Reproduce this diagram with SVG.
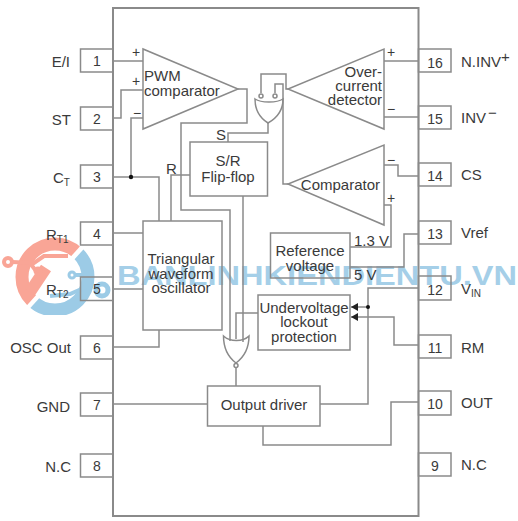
<svg xmlns="http://www.w3.org/2000/svg" width="518" height="521" viewBox="0 0 518 521">
<style>
.l{fill:none;stroke:#8a8a8a;stroke-width:1.5}
.b{fill:none;stroke:#8a8a8a;stroke-width:1.5}
.o{fill:none;stroke:#8a8a8a;stroke-width:2}
text{font-family:"Liberation Sans",Arial,sans-serif;font-size:15px;fill:#3a3a3a}
.m{text-anchor:middle}
.e{text-anchor:end}
.s{font-size:10px}
.p{font-size:14px;fill:#3a3a3a}
.sg{font-size:14px}
.wr{fill:none;stroke:#f9a596}
.wb{fill:none;stroke:#9ccbe6}
</style>
<defs>
<marker id="a" markerUnits="userSpaceOnUse" markerWidth="7" markerHeight="8" refX="7" refY="4" orient="auto"><path d="M0 0L7 4L0 8Z" fill="#222"/></marker>
<clipPath id="cr"><path d="M92 233L20 313H0V220H92Z"/></clipPath>
<clipPath id="cb"><path d="M92 240L24 315H125V240Z"/></clipPath>
</defs>
<rect width="518" height="521" fill="#fff"/>
<g id="watermark">
<g clip-path="url(#cr)"><circle class="wr" cx="55" cy="277" r="33" stroke-width="13"/><path class="wr" stroke-width="4" d="M12 262L34 263L44 256H68M30 263L36 271H38"/><path class="wr" stroke-width="12" d="M30 292L46 268"/></g>
<circle class="wr" cx="8" cy="262" r="4" stroke-width="4"/><circle class="wr" cx="38" cy="271" r="3" stroke-width="3"/>
<g clip-path="url(#cb)"><circle class="wb" cx="55" cy="277" r="33" stroke-width="13"/><path class="wb" stroke-width="4" d="M76 275H94"/></g>
<circle class="wb" cx="72" cy="275" r="3" stroke-width="3"/><circle class="wb" cx="102" cy="290" r="6" stroke-width="5"/>
<path class="wb" stroke-width="4" fill="none" d="M50 296L70 294L86 287"/>
<text x="117" y="285" textLength="400" lengthAdjust="spacingAndGlyphs" style="font-size:28px;fill:#a5cfe8;font-weight:bold">BANLINHKIENDIENTU.VN</text>
</g>
<g id="connectors">
<path class="l" d="M113 61H143M113 118H121V90H143M143 118H131V177M113 177H159V221"/>
<path class="l" d="M238 89H247V123H181V210H230V341"/>
<path class="l" d="M190 175H171V221M243 196V342M258 313H236V339"/>
<path class="l" d="M113 233H143M113 289H143M113 347H159V330M113 404H207"/>
<path class="l" d="M236 368V386"/>
<path class="l" d="M268 123V133H228V142"/>
<path class="l" d="M261 93V74H286V89H288M275 93V84H283V184H288"/>
<path class="l" d="M384 61H418M384 117H418M384 165H398V176H418M384 205H391V247H350M418 234H404V267H350"/>
<path class="l" d="M320 404H368V288H418"/>
<path class="l" d="M368 307H351" marker-end="url(#a)"/>
<path class="l" d="M418 345H394V317H351" marker-end="url(#a)"/>
<path class="l" d="M263 426V445H391V402H418"/>
<circle cx="131" cy="177" r="2.200" fill="#111"/>
<circle cx="368" cy="307" r="2" fill="#111"/>
</g>
<g id="package"><rect class="o" x="113" y="8" width="305.500" height="508"/></g>
<g id="pin1"><rect class="b" x="80.500" y="49" width="32.500" height="23"/><text class="m p" x="97" y="66">1</text><text class="e" x="70" y="67">E/I</text></g>
<g id="pin2"><rect class="b" x="80.500" y="107" width="32.500" height="23"/><text class="m p" x="97" y="124">2</text><text class="e" x="71" y="125">ST</text></g>
<g id="pin3"><rect class="b" x="80.500" y="165" width="32.500" height="23"/><text class="m p" x="97" y="182">3</text><text x="53" y="183">C<tspan class="s" dy="3">T</tspan></text></g>
<g id="pin4"><rect class="b" x="80.500" y="222" width="32.500" height="23"/><text class="m p" x="97" y="239">4</text><text x="46" y="240">R<tspan class="s" dy="3">T1</tspan></text></g>
<g id="pin5"><rect class="b" x="80.500" y="277" width="32.500" height="23.500"/><text class="m p" x="97" y="294">5</text><text x="46" y="295">R<tspan class="s" dy="3">T2</tspan></text></g>
<g id="pin6"><rect class="b" x="80.500" y="336" width="32.500" height="23"/><text class="m p" x="97" y="353">6</text><text class="e" x="71" y="353">OSC Out</text></g>
<g id="pin7"><rect class="b" x="80.500" y="393" width="32.500" height="23"/><text class="m p" x="97" y="410">7</text><text class="e" x="70" y="412">GND</text></g>
<g id="pin8"><rect class="b" x="80.500" y="454" width="32.500" height="23"/><text class="m p" x="97" y="471">8</text><text class="e" x="71" y="472">N.C</text></g>
<g id="pin16"><rect class="b" x="418.500" y="49" width="32.500" height="23"/><text class="m p" x="435" y="68">16</text><text x="461" y="67">N.INV<tspan dy="-5">+</tspan></text></g>
<g id="pin15"><rect class="b" x="418.500" y="106" width="32.500" height="23"/><text class="m p" x="435" y="124">15</text><text x="461" y="123">INV<tspan dx="2" dy="-5">−</tspan></text></g>
<g id="pin14"><rect class="b" x="418.500" y="163" width="32.500" height="23"/><text class="m p" x="435" y="181">14</text><text x="461" y="180">CS</text></g>
<g id="pin13"><rect class="b" x="418.500" y="221" width="32.500" height="23"/><text class="m p" x="435" y="239">13</text><text x="461" y="238">Vref</text></g>
<g id="pin12"><rect class="b" x="418.500" y="276" width="32.500" height="24"/><text class="m p" x="435" y="295">12</text><text x="461" y="294">V<tspan class="s" dy="3">IN</tspan></text></g>
<g id="pin11"><rect class="b" x="418.500" y="335" width="32.500" height="23"/><text class="m p" x="435" y="353">11</text><text x="461" y="353">RM</text></g>
<g id="pin10"><rect class="b" x="418.500" y="391" width="32.500" height="24"/><text class="m p" x="435" y="409">10</text><text x="461" y="408">OUT</text></g>
<g id="pin9"><rect class="b" x="418.500" y="453" width="32.500" height="23"/><text class="m p" x="435" y="471">9</text><text x="461" y="470">N.C</text></g>
<g id="pwm"><path class="b" d="M143 49V129L238 89Z"/><text x="144" y="81">PWM</text><text x="144" y="96">comparator</text><text class="sg" x="132" y="57">+</text><text class="sg" x="132" y="86">+</text><text class="sg" x="133" y="118">−</text></g>
<g id="overcurrent"><path class="b" d="M384 49V129L288 89Z"/><text class="e" x="382" y="77">Over-</text><text class="e" x="382" y="91">current</text><text class="e" x="382" y="105">detector</text><text class="sg" x="387" y="57">+</text><text class="sg" x="387" y="114">−</text></g>
<g id="comparator"><path class="b" d="M384 145V225L288 184Z"/><text class="e" x="380" y="190">Comparator</text><text class="sg" x="387" y="165">−</text><text class="sg" x="387" y="203">+</text></g>
<g id="orgate"><path class="b" d="M255 99C261 103 277 103 283 99C283 110 277 118 268 123C260 118 255 110 255 99Z"/><circle class="b" cx="261" cy="96" r="2"/><circle class="b" cx="275" cy="96" r="2"/></g>
<g id="srff"><rect class="b" x="190" y="142" width="77.500" height="54"/><text class="m" x="228" y="166">S/R</text><text class="m" x="228" y="182">Flip-flop</text><text x="216" y="140">S</text><text x="166" y="174">R</text></g>
<g id="oscillator"><rect class="b" x="143" y="221" width="79" height="109"/><text class="m" x="181" y="264">Triangular</text><text class="m" x="181" y="279">waveform</text><text class="m" x="181" y="293">oscillator</text></g>
<g id="reference"><rect class="b" x="270.500" y="233" width="79.500" height="45"/><text class="m" x="310" y="256">Reference</text><text class="m" x="310" y="271">voltage</text><text x="354" y="246">1.3 V</text><text x="354" y="280">5 V</text></g>
<g id="uvlo"><rect class="b" x="258" y="295" width="92" height="55"/><text class="m" x="304" y="313">Undervoltage</text><text class="m" x="304" y="327">lockout</text><text class="m" x="304" y="342">protection</text></g>
<g id="norgate"><path class="b" d="M223.500 336C230 342 243 342 249 336C249 348 244 357 236 363C228 357 223.500 348 223.500 336Z"/><circle class="b" cx="236" cy="365.500" r="2"/></g>
<g id="driver"><rect class="b" x="207.500" y="386" width="112.500" height="40"/><text class="m" x="264" y="410">Output driver</text></g>
</svg>
